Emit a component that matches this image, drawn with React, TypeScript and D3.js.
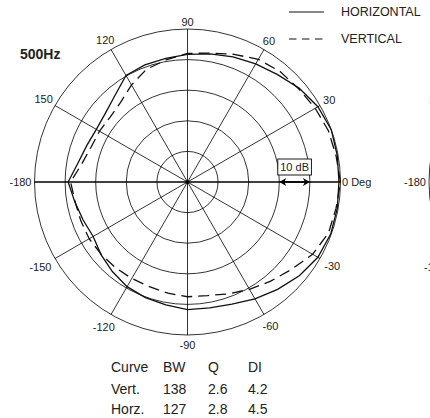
import { useEffect, useRef } from 'react';
import * as d3 from 'd3';

// polar response, 500Hz (dB relative to on-axis, every 10 deg)
const angles = [
  0, 10, 20, 30, 40, 50, 60, 70, 80, 90, 100, 110, 120, 130, 140, 150, 160, 170, 180,
  -170, -160, -150, -140, -130, -120, -110, -100, -90, -80, -70, -60, -50, -40, -30, -20, -10,
];
const horizontal = [
  -0.5, -0.3, 0, -0.8, -2.3, -4.2, -5.4, -6.5, -7.5, -8.3, -9.0, -9.3, -9.8, -13.1, -15.0, -15.6, -15.0, -13.7, -11.0,
  -12.6, -13.7, -14.4, -13.1, -11.8, -10.5, -9.8, -9.2, -8.3, -8.2, -7.5, -5.9, -4.2, -2.3, -0.8, -0.2, -0.3,
];
const vertical = [
  0, -0.7, -1.0, -1.8, -2.6, -2.9, -3.7, -5.6, -7.2, -8.0, -9.5, -10.8, -13.4, -16.0, -17.0, -16.8, -16.5, -15.0, -11.8,
  -12.7, -12.9, -12.9, -13.2, -13.4, -13.6, -13.6, -13.1, -12.5, -12.3, -11.1, -9.5, -7.7, -5.6, -2.8, -1.0, -0.7,
];

const ringLevels = [-40, -30, -20, -10, 0];
const spokeAngles = [0, 30, 60, 90, 120, 150];
const tickAngles = [30, 60, 90, 120, 150, 180, -150, -120, -90, -60, -30];
const tickLabels = ['30', '60', '90', '120', '150', '-180', '-150', '-120', '-90', '-60', '-30'];
// labels of the next chart that peek in at the right edge
const edgeAngles = [150, 180, -150];
const edgeLabels = ['150', '-180', '-150'];

const tableHeader = ['Curve', 'BW', 'Q', 'DI'];
const tableRows = [
  ['Vert.', '138', '2.6', '4.2'],
  ['Horz.', '127', '2.8', '4.5'],
];

const FONT = "'Liberation Sans', Arial, sans-serif";

const App = () => {
  const ref = useRef<HTMLDivElement>(null);

  useEffect(() => {
    document.body.style.margin = '0';
    d3.select(ref.current).selectAll('*').remove();

    const width = 430;
    const height = 418;
    const cx = 187.5;
    const cy = 182;
    const R = 153;

    const svg = d3
      .select(ref.current)
      .append('svg')
      .attr('width', width)
      .attr('height', height)
      .style('display', 'block')
      .attr('font-family', FONT);

    const r = d3.scaleLinear().domain([-50, 0]).range([0, R]);
    const rad = (deg: number) => (deg * Math.PI) / 180;

    const drawGrid = (x0: number, full: boolean, ang: number[], labs: string[]) => {
      const g = svg.append('g').attr('transform', `translate(${x0},${cy})`);
      if (full) {
        g.selectAll('circle.ring')
          .data(ringLevels)
          .join('circle')
          .attr('r', (d) => r(d))
          .attr('fill', 'none')
          .attr('stroke', '#000')
          .attr('stroke-width', 0.8);
        g.selectAll('line.spoke')
          .data(spokeAngles)
          .join('line')
          .attr('x1', (d) => R * Math.cos(rad(d)))
          .attr('y1', (d) => -R * Math.sin(rad(d)))
          .attr('x2', (d) => -R * Math.cos(rad(d)))
          .attr('y2', (d) => R * Math.sin(rad(d)))
          .attr('stroke', '#000')
          .attr('stroke-width', (d) => (d === 0 ? 1.3 : 0.8));
        g.append('circle').attr('r', 2).attr('fill', '#000');
      } else {
        g.append('circle')
          .attr('r', R)
          .attr('fill', 'none')
          .attr('stroke', '#000')
          .attr('stroke-width', 0.8);
      }

      const labels = g
        .selectAll('text.tick')
        .data(ang)
        .join('text')
        .attr('font-size', 11)
        .attr('fill', '#222')
        .attr('text-anchor', 'middle')
        .attr('dominant-baseline', 'central')
        .text((_, i) => labs[i]);
      labels.each(function (d) {
        const el = this as SVGTextElement;
        const w = el.getComputedTextLength();
        const a = rad(d);
        const extra = d < 0 ? 2 : 0;
        const off = R + 3 + extra + (w / 2) * Math.abs(Math.cos(a)) + 4.5 * Math.abs(Math.sin(a));
        d3.select(el)
          .attr('x', off * Math.cos(a))
          .attr('y', -off * Math.sin(a));
      });
      return g;
    };

    // neighbouring chart, cut off at the right edge
    drawGrid(cx + 394.5, false, edgeAngles, edgeLabels);

    const g = drawGrid(cx, true, tickAngles, tickLabels);

    g.append('text')
      .attr('x', R + 1.5)
      .attr('y', 0)
      .attr('dominant-baseline', 'central')
      .attr('font-size', 11)
      .attr('fill', '#222')
      .text('0 Deg');

    const line = d3
      .lineRadial<number>()
      .angle((_, i) => rad(90 - angles[i]))
      .radius((d) => r(d))
      .curve(d3.curveLinearClosed);

    g.append('path')
      .attr('d', line(horizontal))
      .attr('fill', 'none')
      .attr('stroke', '#111')
      .attr('stroke-width', 1.3);

    g.append('path')
      .attr('d', line(vertical))
      .attr('fill', 'none')
      .attr('stroke', '#111')
      .attr('stroke-width', 1.3)
      .attr('stroke-dasharray', '11,6');

    // 10 dB scale marker
    const a0 = r(-20);
    const a1 = r(-10);
    g.append('rect')
      .attr('x', a0 - 1.5)
      .attr('y', -23)
      .attr('width', a1 - a0 + 3)
      .attr('height', 16)
      .attr('fill', '#fff')
      .attr('stroke', '#000')
      .attr('stroke-width', 0.9);
    g.append('text')
      .attr('x', (a0 + a1) / 2)
      .attr('y', -15)
      .attr('text-anchor', 'middle')
      .attr('dominant-baseline', 'central')
      .attr('font-size', 11)
      .attr('fill', '#222')
      .text('10 dB');
    g.append('line')
      .attr('x1', a0 + 2)
      .attr('x2', a1 - 2)
      .attr('stroke', '#000')
      .attr('stroke-width', 1.6);
    g.append('path')
      .attr(
        'd',
        `M${a0},0 L${a0 + 7},-4 L${a0 + 5},0 L${a0 + 7},4 Z M${a1},0 L${a1 - 7},-4 L${a1 - 5},0 L${a1 - 7},4 Z`
      )
      .attr('fill', '#000');

    // title
    svg
      .append('text')
      .attr('x', 20)
      .attr('y', 59)
      .attr('font-size', 14)
      .attr('font-weight', 'bold')
      .attr('fill', '#222')
      .text('500Hz');

    // legend
    const legend = svg.append('g').attr('transform', 'translate(289,12)');
    const items = [
      { label: 'HORIZONTAL', dash: null },
      { label: 'VERTICAL', dash: '7.5,5.5' },
    ];
    items.forEach((it, i) => {
      const y = i * 27;
      legend
        .append('line')
        .attr('x1', 0)
        .attr('x2', 35)
        .attr('y1', y)
        .attr('y2', y)
        .attr('stroke', '#111')
        .attr('stroke-width', 1.1)
        .attr('stroke-dasharray', it.dash);
      legend
        .append('text')
        .attr('x', 52)
        .attr('y', y)
        .attr('dominant-baseline', 'central')
        .attr('font-size', 12.5)
        .attr('fill', '#222')
        .text(it.label);
    });

    // stats table
    const colX = [111, 163, 208, 248];
    const rowY = [367, 388.5, 409];
    const table = svg.append('g').attr('font-size', 14).attr('fill', '#222');
    [tableHeader, ...tableRows].forEach((row, ri) => {
      row.forEach((cell, ci) => {
        table
          .append('text')
          .attr('x', colX[ci])
          .attr('y', rowY[ri])
          .attr('dominant-baseline', 'central')
          .text(cell);
      });
    });
  }, []);

  return <div ref={ref} />;
};

export default App;
